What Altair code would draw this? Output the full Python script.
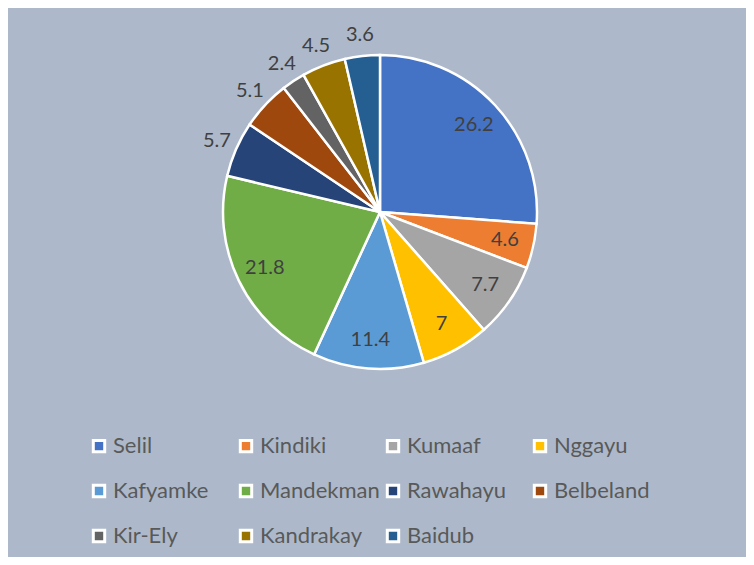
import altair as alt
import pandas as pd

categories = ["Selil", "Kindiki", "Kumaaf", "Nggayu", "Kafyamke", "Mandekman",
              "Rawahayu", "Belbeland", "Kir-Ely", "Kandrakay", "Baidub"]
values = [26.2, 4.6, 7.7, 7, 11.4, 21.8, 5.7, 5.1, 2.4, 4.5, 3.6]
colors = ["#4472C4", "#ED7D31", "#A5A5A5", "#FFC000", "#5B9BD5", "#70AD47",
          "#264478", "#9E480E", "#636363", "#997300", "#255E91"]
outside_labels = ["Rawahayu", "Belbeland", "Kir-Ely", "Kandrakay", "Baidub"]

df = pd.DataFrame({
    "kecamatan": categories,
    "nilai": values,
    "urut": list(range(len(categories))),
    "label": [str(v) for v in values],
    "luar": [c in outside_labels for c in categories],
})

CX, CY, R = 372, 204, 157
R_IN, R_OUT = 128, 178
FONT = "Lato"

arcs = alt.Chart(df).mark_arc(outerRadius=R, stroke="white", strokeWidth=2.5).encode(
    theta=alt.Theta("nilai:Q", stack=True),
    order=alt.Order("urut:Q"),
    x=alt.value(CX),
    y=alt.value(CY),
    color=alt.Color(
        "kecamatan:N",
        scale=alt.Scale(domain=categories, range=colors),
        sort=categories,
        legend=alt.Legend(
            title=None,
            orient="none",
            legendX=80,
            legendY=427,
            columns=4,
            direction="horizontal",
            gridAlign="all",
            columnPadding=1,
            rowPadding=21,
            symbolType="square",
            symbolSize=130,
            symbolStrokeColor="white",
            symbolStrokeWidth=3,
            symbolOpacity=1,
            labelFont=FONT,
            labelFontSize=22,
            labelColor="#595959",
            labelOffset=3,
            labelLimit=200,
        ),
    ),
)

labels = (
    alt.Chart(df)
    .transform_joinaggregate(total="sum(nilai)")
    .transform_window(cum="sum(nilai)", sort=[alt.SortField("urut")], frame=[None, 0])
    .transform_calculate(
        ang="2 * PI * (datum.cum - datum.nilai / 2) / datum.total",
        r=f"datum.luar ? {R_OUT} : {R_IN}",
    )
    .mark_text(font=FONT, fontSize=20, color="#404040")
    .encode(
        theta=alt.Theta("ang:Q", scale=None, stack=None),
        radius=alt.Radius("r:Q", scale=None),
        x=alt.value(CX),
        y=alt.value(CY),
        text="label:N",
    )
)

chart = alt.layer(arcs, labels).properties(
    width=738, height=549, padding=0, background="#ADB9CA"
).configure_view(stroke=None)

chart.save("out.html", embed_options={"renderer": "svg", "actions": False})
